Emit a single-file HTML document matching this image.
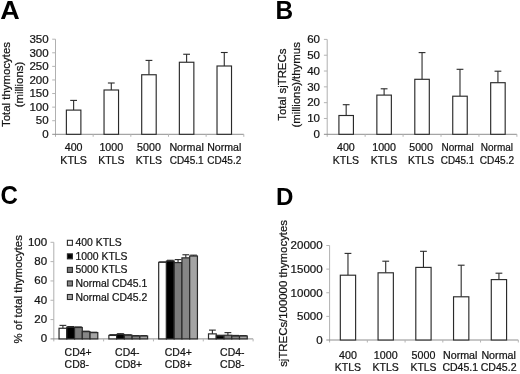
<!DOCTYPE html>
<html><head><meta charset="utf-8"><title>Figure</title>
<style>html,body{margin:0;padding:0;background:#fff;}svg{display:block;will-change:transform;font-family:"Liberation Sans",sans-serif;}</style>
</head><body>
<svg width="520" height="374" viewBox="0 0 520 374">
<rect x="0" y="0" width="520" height="374" fill="#fff"/>
<text transform="translate(0.15 19.3) scale(1.07 1)" font-size="25.2" text-anchor="start" font-weight="bold" fill="#000">A</text>
<text transform="translate(275.5 18.5) scale(0.97 1)" font-size="25.2" text-anchor="start" font-weight="bold" fill="#000">B</text>
<text transform="translate(0.6 204.2) scale(0.955 1)" font-size="25.2" text-anchor="start" font-weight="bold" fill="#000">C</text>
<text transform="translate(276.1 204.6) scale(0.972 1)" font-size="24.8" text-anchor="start" font-weight="bold" fill="#000">D</text>
<line x1="55.50" y1="39.20" x2="55.50" y2="136.80" stroke="#b0b0b0" stroke-width="1"/>
<line x1="52.20" y1="134.30" x2="243.80" y2="134.30" stroke="#8e8e8e" stroke-width="1"/>
<text transform="translate(48.7 138.05) scale(1.05 1)" font-size="11" text-anchor="end" font-weight="normal" fill="#141414" stroke="#141414" stroke-width="0.22">0</text>
<line x1="52.20" y1="120.71" x2="55.50" y2="120.71" stroke="#b4b4b4" stroke-width="1"/>
<text transform="translate(48.7 124.46428571428572) scale(1.05 1)" font-size="11" text-anchor="end" font-weight="normal" fill="#141414" stroke="#141414" stroke-width="0.22">50</text>
<line x1="52.20" y1="107.13" x2="55.50" y2="107.13" stroke="#b4b4b4" stroke-width="1"/>
<text transform="translate(48.7 110.87857142857143) scale(1.05 1)" font-size="11" text-anchor="end" font-weight="normal" fill="#141414" stroke="#141414" stroke-width="0.22">100</text>
<line x1="52.20" y1="93.54" x2="55.50" y2="93.54" stroke="#b4b4b4" stroke-width="1"/>
<text transform="translate(48.7 97.29285714285714) scale(1.05 1)" font-size="11" text-anchor="end" font-weight="normal" fill="#141414" stroke="#141414" stroke-width="0.22">150</text>
<line x1="52.20" y1="79.96" x2="55.50" y2="79.96" stroke="#b4b4b4" stroke-width="1"/>
<text transform="translate(48.7 83.70714285714286) scale(1.05 1)" font-size="11" text-anchor="end" font-weight="normal" fill="#141414" stroke="#141414" stroke-width="0.22">200</text>
<line x1="52.20" y1="66.37" x2="55.50" y2="66.37" stroke="#b4b4b4" stroke-width="1"/>
<text transform="translate(48.7 70.12142857142858) scale(1.05 1)" font-size="11" text-anchor="end" font-weight="normal" fill="#141414" stroke="#141414" stroke-width="0.22">250</text>
<line x1="52.20" y1="52.79" x2="55.50" y2="52.79" stroke="#b4b4b4" stroke-width="1"/>
<text transform="translate(48.7 56.53571428571429) scale(1.05 1)" font-size="11" text-anchor="end" font-weight="normal" fill="#141414" stroke="#141414" stroke-width="0.22">300</text>
<line x1="52.20" y1="39.20" x2="55.50" y2="39.20" stroke="#b4b4b4" stroke-width="1"/>
<text transform="translate(48.7 42.95) scale(1.05 1)" font-size="11" text-anchor="end" font-weight="normal" fill="#141414" stroke="#141414" stroke-width="0.22">350</text>
<line x1="93.16" y1="134.30" x2="93.16" y2="136.80" stroke="#b4b4b4" stroke-width="1"/>
<line x1="130.82" y1="134.30" x2="130.82" y2="136.80" stroke="#b4b4b4" stroke-width="1"/>
<line x1="168.48" y1="134.30" x2="168.48" y2="136.80" stroke="#b4b4b4" stroke-width="1"/>
<line x1="206.14" y1="134.30" x2="206.14" y2="136.80" stroke="#b4b4b4" stroke-width="1"/>
<line x1="243.80" y1="134.30" x2="243.80" y2="136.80" stroke="#b4b4b4" stroke-width="1"/>
<line x1="73.63" y1="100.40" x2="73.63" y2="110.10" stroke="#2a2a2a" stroke-width="1.1"/>
<line x1="70.23" y1="100.40" x2="77.03" y2="100.40" stroke="#2a2a2a" stroke-width="1.1"/>
<rect x="66.38" y="110.10" width="14.50" height="24.20" fill="#fff" stroke="#2a2a2a" stroke-width="1.15"/>
<text transform="translate(73.63 150.8) scale(1.07 1)" font-size="10" text-anchor="middle" font-weight="normal" fill="#141414" stroke="#141414" stroke-width="0.22">400</text>
<text transform="translate(73.63 163.9) scale(1.07 1)" font-size="10" text-anchor="middle" font-weight="normal" fill="#141414" stroke="#141414" stroke-width="0.22">KTLS</text>
<line x1="111.29" y1="83.00" x2="111.29" y2="90.00" stroke="#2a2a2a" stroke-width="1.1"/>
<line x1="107.89" y1="83.00" x2="114.69" y2="83.00" stroke="#2a2a2a" stroke-width="1.1"/>
<rect x="104.04" y="90.00" width="14.50" height="44.30" fill="#fff" stroke="#2a2a2a" stroke-width="1.15"/>
<text transform="translate(111.29 150.8) scale(1.07 1)" font-size="10" text-anchor="middle" font-weight="normal" fill="#141414" stroke="#141414" stroke-width="0.22">1000</text>
<text transform="translate(111.29 163.9) scale(1.05 1)" font-size="10" text-anchor="middle" font-weight="normal" fill="#141414" stroke="#141414" stroke-width="0.22">KTLS</text>
<line x1="148.95" y1="60.40" x2="148.95" y2="74.75" stroke="#2a2a2a" stroke-width="1.1"/>
<line x1="145.55" y1="60.40" x2="152.35" y2="60.40" stroke="#2a2a2a" stroke-width="1.1"/>
<rect x="141.70" y="74.75" width="14.50" height="59.55" fill="#fff" stroke="#2a2a2a" stroke-width="1.15"/>
<text transform="translate(148.95000000000002 150.8) scale(1.07 1)" font-size="10" text-anchor="middle" font-weight="normal" fill="#141414" stroke="#141414" stroke-width="0.22">5000</text>
<text transform="translate(148.95000000000002 163.9) scale(1.05 1)" font-size="10" text-anchor="middle" font-weight="normal" fill="#141414" stroke="#141414" stroke-width="0.22">KTLS</text>
<line x1="186.61" y1="54.25" x2="186.61" y2="62.25" stroke="#2a2a2a" stroke-width="1.1"/>
<line x1="183.21" y1="54.25" x2="190.01" y2="54.25" stroke="#2a2a2a" stroke-width="1.1"/>
<rect x="179.36" y="62.25" width="14.50" height="72.05" fill="#fff" stroke="#2a2a2a" stroke-width="1.15"/>
<text transform="translate(186.61 150.8) scale(1.07 1)" font-size="10" text-anchor="middle" font-weight="normal" fill="#141414" stroke="#141414" stroke-width="0.22">Normal</text>
<text transform="translate(186.61 163.9)" font-size="10" text-anchor="middle" font-weight="normal" fill="#141414" stroke="#141414" stroke-width="0.22">CD45.1</text>
<line x1="224.27" y1="52.50" x2="224.27" y2="66.00" stroke="#2a2a2a" stroke-width="1.1"/>
<line x1="220.87" y1="52.50" x2="227.67" y2="52.50" stroke="#2a2a2a" stroke-width="1.1"/>
<rect x="217.02" y="66.00" width="14.50" height="68.30" fill="#fff" stroke="#2a2a2a" stroke-width="1.15"/>
<text transform="translate(224.27000000000004 150.8) scale(1.06 1)" font-size="10" text-anchor="middle" font-weight="normal" fill="#141414" stroke="#141414" stroke-width="0.22">Normal</text>
<text transform="translate(224.27000000000004 163.9)" font-size="10" text-anchor="middle" font-weight="normal" fill="#141414" stroke="#141414" stroke-width="0.22">CD45.2</text>
<text transform="translate(10.2 84.5) rotate(-90) scale(1 1.03)" font-size="11.4" text-anchor="middle" font-weight="normal" fill="#141414" stroke="#141414" stroke-width="0.22">Total thymocytes</text>
<text transform="translate(22.7 84.5) rotate(-90) scale(1 1.03)" font-size="11.4" text-anchor="middle" font-weight="normal" fill="#141414" stroke="#141414" stroke-width="0.22">(millions)</text>
<line x1="327.20" y1="39.40" x2="327.20" y2="136.80" stroke="#b0b0b0" stroke-width="1"/>
<line x1="323.90" y1="134.30" x2="516.90" y2="134.30" stroke="#8e8e8e" stroke-width="1"/>
<text transform="translate(320.0 138.05) scale(1.05 1)" font-size="11" text-anchor="end" font-weight="normal" fill="#141414" stroke="#141414" stroke-width="0.22">0</text>
<line x1="323.90" y1="118.48" x2="327.20" y2="118.48" stroke="#b4b4b4" stroke-width="1"/>
<text transform="translate(320.0 122.23333333333335) scale(1.05 1)" font-size="11" text-anchor="end" font-weight="normal" fill="#141414" stroke="#141414" stroke-width="0.22">10</text>
<line x1="323.90" y1="102.67" x2="327.20" y2="102.67" stroke="#b4b4b4" stroke-width="1"/>
<text transform="translate(320.0 106.41666666666667) scale(1.05 1)" font-size="11" text-anchor="end" font-weight="normal" fill="#141414" stroke="#141414" stroke-width="0.22">20</text>
<line x1="323.90" y1="86.85" x2="327.20" y2="86.85" stroke="#b4b4b4" stroke-width="1"/>
<text transform="translate(320.0 90.6) scale(1.05 1)" font-size="11" text-anchor="end" font-weight="normal" fill="#141414" stroke="#141414" stroke-width="0.22">30</text>
<line x1="323.90" y1="71.03" x2="327.20" y2="71.03" stroke="#b4b4b4" stroke-width="1"/>
<text transform="translate(320.0 74.78333333333333) scale(1.05 1)" font-size="11" text-anchor="end" font-weight="normal" fill="#141414" stroke="#141414" stroke-width="0.22">40</text>
<line x1="323.90" y1="55.22" x2="327.20" y2="55.22" stroke="#b4b4b4" stroke-width="1"/>
<text transform="translate(320.0 58.96666666666668) scale(1.05 1)" font-size="11" text-anchor="end" font-weight="normal" fill="#141414" stroke="#141414" stroke-width="0.22">50</text>
<line x1="323.90" y1="39.40" x2="327.20" y2="39.40" stroke="#b4b4b4" stroke-width="1"/>
<text transform="translate(320.0 43.14999999999999) scale(1.05 1)" font-size="11" text-anchor="end" font-weight="normal" fill="#141414" stroke="#141414" stroke-width="0.22">60</text>
<line x1="365.14" y1="134.30" x2="365.14" y2="136.80" stroke="#b4b4b4" stroke-width="1"/>
<line x1="403.08" y1="134.30" x2="403.08" y2="136.80" stroke="#b4b4b4" stroke-width="1"/>
<line x1="441.02" y1="134.30" x2="441.02" y2="136.80" stroke="#b4b4b4" stroke-width="1"/>
<line x1="478.96" y1="134.30" x2="478.96" y2="136.80" stroke="#b4b4b4" stroke-width="1"/>
<line x1="516.90" y1="134.30" x2="516.90" y2="136.80" stroke="#b4b4b4" stroke-width="1"/>
<line x1="346.17" y1="104.70" x2="346.17" y2="115.50" stroke="#2a2a2a" stroke-width="1.1"/>
<line x1="342.77" y1="104.70" x2="349.57" y2="104.70" stroke="#2a2a2a" stroke-width="1.1"/>
<rect x="338.92" y="115.50" width="14.50" height="18.80" fill="#fff" stroke="#2a2a2a" stroke-width="1.15"/>
<text transform="translate(345.86999999999995 150.8) scale(1.07 1)" font-size="10" text-anchor="middle" font-weight="normal" fill="#141414" stroke="#141414" stroke-width="0.22">400</text>
<text transform="translate(345.86999999999995 163.9) scale(1.05 1)" font-size="10" text-anchor="middle" font-weight="normal" fill="#141414" stroke="#141414" stroke-width="0.22">KTLS</text>
<line x1="384.11" y1="88.80" x2="384.11" y2="95.10" stroke="#2a2a2a" stroke-width="1.1"/>
<line x1="380.71" y1="88.80" x2="387.51" y2="88.80" stroke="#2a2a2a" stroke-width="1.1"/>
<rect x="376.86" y="95.10" width="14.50" height="39.20" fill="#fff" stroke="#2a2a2a" stroke-width="1.15"/>
<text transform="translate(384.11 150.8) scale(1.07 1)" font-size="10" text-anchor="middle" font-weight="normal" fill="#141414" stroke="#141414" stroke-width="0.22">1000</text>
<text transform="translate(384.11 163.9) scale(1.07 1)" font-size="10" text-anchor="middle" font-weight="normal" fill="#141414" stroke="#141414" stroke-width="0.22">KTLS</text>
<line x1="422.05" y1="52.60" x2="422.05" y2="79.30" stroke="#2a2a2a" stroke-width="1.1"/>
<line x1="418.65" y1="52.60" x2="425.45" y2="52.60" stroke="#2a2a2a" stroke-width="1.1"/>
<rect x="414.80" y="79.30" width="14.50" height="55.00" fill="#fff" stroke="#2a2a2a" stroke-width="1.15"/>
<text transform="translate(421.04999999999995 150.8) scale(1.05 1)" font-size="10" text-anchor="middle" font-weight="normal" fill="#141414" stroke="#141414" stroke-width="0.22">5000</text>
<text transform="translate(421.04999999999995 163.9) scale(1.05 1)" font-size="10" text-anchor="middle" font-weight="normal" fill="#141414" stroke="#141414" stroke-width="0.22">KTLS</text>
<line x1="459.99" y1="69.30" x2="459.99" y2="96.20" stroke="#2a2a2a" stroke-width="1.1"/>
<line x1="456.59" y1="69.30" x2="463.39" y2="69.30" stroke="#2a2a2a" stroke-width="1.1"/>
<rect x="452.74" y="96.20" width="14.50" height="38.10" fill="#fff" stroke="#2a2a2a" stroke-width="1.15"/>
<text transform="translate(457.59000000000003 150.8)" font-size="10" text-anchor="middle" font-weight="normal" fill="#141414" stroke="#141414" stroke-width="0.22">Normal</text>
<text transform="translate(457.59000000000003 163.9) scale(0.99 1)" font-size="10" text-anchor="middle" font-weight="normal" fill="#141414" stroke="#141414" stroke-width="0.22">CD45.1</text>
<line x1="497.93" y1="71.20" x2="497.93" y2="82.70" stroke="#2a2a2a" stroke-width="1.1"/>
<line x1="494.53" y1="71.20" x2="501.33" y2="71.20" stroke="#2a2a2a" stroke-width="1.1"/>
<rect x="490.68" y="82.70" width="14.50" height="51.60" fill="#fff" stroke="#2a2a2a" stroke-width="1.15"/>
<text transform="translate(496.92999999999995 150.8)" font-size="10" text-anchor="middle" font-weight="normal" fill="#141414" stroke="#141414" stroke-width="0.22">Normal</text>
<text transform="translate(496.92999999999995 163.9) scale(1.01 1)" font-size="10" text-anchor="middle" font-weight="normal" fill="#141414" stroke="#141414" stroke-width="0.22">CD45.2</text>
<text transform="translate(286.4 84.7) rotate(-90) scale(1 1.03)" font-size="11.4" text-anchor="middle" font-weight="normal" fill="#141414" stroke="#141414" stroke-width="0.22">Total sjTRECs</text>
<text transform="translate(300.3 84.9) rotate(-90) scale(1 1.03)" font-size="11.4" text-anchor="middle" font-weight="normal" fill="#141414" stroke="#141414" stroke-width="0.22">(millions)/thymus</text>
<line x1="329.60" y1="245.50" x2="329.60" y2="342.50" stroke="#b0b0b0" stroke-width="1"/>
<line x1="326.30" y1="340.00" x2="518.30" y2="340.00" stroke="#8e8e8e" stroke-width="1"/>
<text transform="translate(322.70000000000005 343.75) scale(1.05 1)" font-size="11" text-anchor="end" font-weight="normal" fill="#141414" stroke="#141414" stroke-width="0.22">0</text>
<line x1="326.30" y1="316.38" x2="329.60" y2="316.38" stroke="#b4b4b4" stroke-width="1"/>
<text transform="translate(322.70000000000005 320.125) scale(1.05 1)" font-size="11" text-anchor="end" font-weight="normal" fill="#141414" stroke="#141414" stroke-width="0.22">5000</text>
<line x1="326.30" y1="292.75" x2="329.60" y2="292.75" stroke="#b4b4b4" stroke-width="1"/>
<text transform="translate(322.70000000000005 296.5) scale(1.05 1)" font-size="11" text-anchor="end" font-weight="normal" fill="#141414" stroke="#141414" stroke-width="0.22">10000</text>
<line x1="326.30" y1="269.12" x2="329.60" y2="269.12" stroke="#b4b4b4" stroke-width="1"/>
<text transform="translate(322.70000000000005 272.875) scale(1.05 1)" font-size="11" text-anchor="end" font-weight="normal" fill="#141414" stroke="#141414" stroke-width="0.22">15000</text>
<line x1="326.30" y1="245.50" x2="329.60" y2="245.50" stroke="#b4b4b4" stroke-width="1"/>
<text transform="translate(322.70000000000005 249.25) scale(1.05 1)" font-size="11" text-anchor="end" font-weight="normal" fill="#141414" stroke="#141414" stroke-width="0.22">20000</text>
<line x1="367.34" y1="340.00" x2="367.34" y2="342.50" stroke="#b4b4b4" stroke-width="1"/>
<line x1="405.08" y1="340.00" x2="405.08" y2="342.50" stroke="#b4b4b4" stroke-width="1"/>
<line x1="442.82" y1="340.00" x2="442.82" y2="342.50" stroke="#b4b4b4" stroke-width="1"/>
<line x1="480.56" y1="340.00" x2="480.56" y2="342.50" stroke="#b4b4b4" stroke-width="1"/>
<line x1="518.30" y1="340.00" x2="518.30" y2="342.50" stroke="#b4b4b4" stroke-width="1"/>
<line x1="347.97" y1="253.40" x2="347.97" y2="275.20" stroke="#2a2a2a" stroke-width="1.1"/>
<line x1="344.57" y1="253.40" x2="351.37" y2="253.40" stroke="#2a2a2a" stroke-width="1.1"/>
<rect x="340.32" y="275.20" width="15.30" height="64.80" fill="#fff" stroke="#2a2a2a" stroke-width="1.15"/>
<text transform="translate(347.97 358.6) scale(1.07 1)" font-size="10" text-anchor="middle" font-weight="normal" fill="#141414" stroke="#141414" stroke-width="0.22">400</text>
<text transform="translate(347.97 371.2) scale(1.05 1)" font-size="10" text-anchor="middle" font-weight="normal" fill="#141414" stroke="#141414" stroke-width="0.22">KTLS</text>
<line x1="385.71" y1="261.20" x2="385.71" y2="272.80" stroke="#2a2a2a" stroke-width="1.1"/>
<line x1="382.31" y1="261.20" x2="389.11" y2="261.20" stroke="#2a2a2a" stroke-width="1.1"/>
<rect x="378.06" y="272.80" width="15.30" height="67.20" fill="#fff" stroke="#2a2a2a" stroke-width="1.15"/>
<text transform="translate(385.71000000000004 358.6) scale(1.07 1)" font-size="10" text-anchor="middle" font-weight="normal" fill="#141414" stroke="#141414" stroke-width="0.22">1000</text>
<text transform="translate(385.71000000000004 371.2) scale(1.05 1)" font-size="10" text-anchor="middle" font-weight="normal" fill="#141414" stroke="#141414" stroke-width="0.22">KTLS</text>
<line x1="423.45" y1="251.30" x2="423.45" y2="267.40" stroke="#2a2a2a" stroke-width="1.1"/>
<line x1="420.05" y1="251.30" x2="426.85" y2="251.30" stroke="#2a2a2a" stroke-width="1.1"/>
<rect x="415.80" y="267.40" width="15.30" height="72.60" fill="#fff" stroke="#2a2a2a" stroke-width="1.15"/>
<text transform="translate(423.45 358.6) scale(1.07 1)" font-size="10" text-anchor="middle" font-weight="normal" fill="#141414" stroke="#141414" stroke-width="0.22">5000</text>
<text transform="translate(423.45 371.2) scale(1.04 1)" font-size="10" text-anchor="middle" font-weight="normal" fill="#141414" stroke="#141414" stroke-width="0.22">KTLS</text>
<line x1="461.19" y1="265.20" x2="461.19" y2="296.80" stroke="#2a2a2a" stroke-width="1.1"/>
<line x1="457.79" y1="265.20" x2="464.59" y2="265.20" stroke="#2a2a2a" stroke-width="1.1"/>
<rect x="453.54" y="296.80" width="15.30" height="43.20" fill="#fff" stroke="#2a2a2a" stroke-width="1.15"/>
<text transform="translate(460.18999999999994 358.6) scale(1.07 1)" font-size="10" text-anchor="middle" font-weight="normal" fill="#141414" stroke="#141414" stroke-width="0.22">Normal</text>
<text transform="translate(460.18999999999994 371.2) scale(1.05 1)" font-size="10" text-anchor="middle" font-weight="normal" fill="#141414" stroke="#141414" stroke-width="0.22">CD45.1</text>
<line x1="498.93" y1="273.20" x2="498.93" y2="279.60" stroke="#2a2a2a" stroke-width="1.1"/>
<line x1="495.53" y1="273.20" x2="502.33" y2="273.20" stroke="#2a2a2a" stroke-width="1.1"/>
<rect x="491.28" y="279.60" width="15.30" height="60.40" fill="#fff" stroke="#2a2a2a" stroke-width="1.15"/>
<text transform="translate(498.62999999999994 358.6) scale(1.07 1)" font-size="10" text-anchor="middle" font-weight="normal" fill="#141414" stroke="#141414" stroke-width="0.22">Normal</text>
<text transform="translate(498.62999999999994 371.2) scale(1.06 1)" font-size="10" text-anchor="middle" font-weight="normal" fill="#141414" stroke="#141414" stroke-width="0.22">CD45.2</text>
<text transform="translate(286.9 293.4) rotate(-90) scale(1 1.03)" font-size="11.4" text-anchor="middle" font-weight="normal" fill="#141414" stroke="#141414" stroke-width="0.22">sjTRECs/100000 thymocytes</text>
<line x1="53.80" y1="242.30" x2="53.80" y2="341.40" stroke="#b0b0b0" stroke-width="1"/>
<line x1="50.50" y1="338.90" x2="253.10" y2="338.90" stroke="#8e8e8e" stroke-width="1"/>
<text transform="translate(47.199999999999996 342.25) scale(1.05 1)" font-size="11" text-anchor="end" font-weight="normal" fill="#141414" stroke="#141414" stroke-width="0.22">0</text>
<line x1="50.50" y1="319.58" x2="53.80" y2="319.58" stroke="#b4b4b4" stroke-width="1"/>
<text transform="translate(47.199999999999996 322.93) scale(1.05 1)" font-size="11" text-anchor="end" font-weight="normal" fill="#141414" stroke="#141414" stroke-width="0.22">20</text>
<line x1="50.50" y1="300.26" x2="53.80" y2="300.26" stroke="#b4b4b4" stroke-width="1"/>
<text transform="translate(47.199999999999996 303.61) scale(1.05 1)" font-size="11" text-anchor="end" font-weight="normal" fill="#141414" stroke="#141414" stroke-width="0.22">40</text>
<line x1="50.50" y1="280.94" x2="53.80" y2="280.94" stroke="#b4b4b4" stroke-width="1"/>
<text transform="translate(47.199999999999996 284.29) scale(1.05 1)" font-size="11" text-anchor="end" font-weight="normal" fill="#141414" stroke="#141414" stroke-width="0.22">60</text>
<line x1="50.50" y1="261.62" x2="53.80" y2="261.62" stroke="#b4b4b4" stroke-width="1"/>
<text transform="translate(47.199999999999996 264.97) scale(1.05 1)" font-size="11" text-anchor="end" font-weight="normal" fill="#141414" stroke="#141414" stroke-width="0.22">80</text>
<line x1="50.50" y1="242.30" x2="53.80" y2="242.30" stroke="#b4b4b4" stroke-width="1"/>
<text transform="translate(47.199999999999996 245.65) scale(1.05 1)" font-size="11" text-anchor="end" font-weight="normal" fill="#141414" stroke="#141414" stroke-width="0.22">100</text>
<line x1="103.62" y1="338.90" x2="103.62" y2="341.40" stroke="#b4b4b4" stroke-width="1"/>
<line x1="153.45" y1="338.90" x2="153.45" y2="341.40" stroke="#b4b4b4" stroke-width="1"/>
<line x1="203.28" y1="338.90" x2="203.28" y2="341.40" stroke="#b4b4b4" stroke-width="1"/>
<line x1="253.10" y1="338.90" x2="253.10" y2="341.40" stroke="#b4b4b4" stroke-width="1"/>
<line x1="62.91" y1="325.38" x2="62.91" y2="328.27" stroke="#2a2a2a" stroke-width="1.1"/>
<line x1="59.51" y1="325.38" x2="66.31" y2="325.38" stroke="#2a2a2a" stroke-width="1.1"/>
<line x1="70.66" y1="326.54" x2="70.66" y2="327.11" stroke="#2a2a2a" stroke-width="1.1"/>
<line x1="67.26" y1="326.54" x2="74.06" y2="326.54" stroke="#2a2a2a" stroke-width="1.1"/>
<line x1="78.41" y1="326.92" x2="78.41" y2="327.50" stroke="#2a2a2a" stroke-width="1.1"/>
<line x1="75.01" y1="326.92" x2="81.81" y2="326.92" stroke="#2a2a2a" stroke-width="1.1"/>
<line x1="86.16" y1="331.17" x2="86.16" y2="331.65" stroke="#2a2a2a" stroke-width="1.1"/>
<line x1="82.76" y1="331.17" x2="89.56" y2="331.17" stroke="#2a2a2a" stroke-width="1.1"/>
<line x1="93.91" y1="332.23" x2="93.91" y2="332.62" stroke="#2a2a2a" stroke-width="1.1"/>
<line x1="90.51" y1="332.23" x2="97.31" y2="332.23" stroke="#2a2a2a" stroke-width="1.1"/>
<rect x="59.04" y="328.27" width="7.75" height="10.63" fill="#ffffff" stroke="#2a2a2a" stroke-width="1.2"/>
<rect x="66.79" y="327.11" width="7.75" height="11.79" fill="#000000" stroke="#2a2a2a" stroke-width="1.2"/>
<rect x="74.54" y="327.50" width="7.75" height="11.40" fill="#7c7c7c" stroke="#2a2a2a" stroke-width="1.2"/>
<rect x="82.29" y="331.65" width="7.75" height="7.25" fill="#868686" stroke="#2a2a2a" stroke-width="1.2"/>
<rect x="90.04" y="332.62" width="7.75" height="6.28" fill="#a4a4a4" stroke="#2a2a2a" stroke-width="1.2"/>
<line x1="112.74" y1="334.65" x2="112.74" y2="335.42" stroke="#2a2a2a" stroke-width="1.1"/>
<line x1="109.34" y1="334.65" x2="116.14" y2="334.65" stroke="#2a2a2a" stroke-width="1.1"/>
<line x1="120.49" y1="333.68" x2="120.49" y2="334.46" stroke="#2a2a2a" stroke-width="1.1"/>
<line x1="117.09" y1="333.68" x2="123.89" y2="333.68" stroke="#2a2a2a" stroke-width="1.1"/>
<line x1="128.24" y1="334.75" x2="128.24" y2="335.23" stroke="#2a2a2a" stroke-width="1.1"/>
<line x1="124.84" y1="334.75" x2="131.64" y2="334.75" stroke="#2a2a2a" stroke-width="1.1"/>
<line x1="135.99" y1="335.62" x2="135.99" y2="336.00" stroke="#2a2a2a" stroke-width="1.1"/>
<line x1="132.59" y1="335.62" x2="139.39" y2="335.62" stroke="#2a2a2a" stroke-width="1.1"/>
<line x1="143.74" y1="335.62" x2="143.74" y2="336.00" stroke="#2a2a2a" stroke-width="1.1"/>
<line x1="140.34" y1="335.62" x2="147.14" y2="335.62" stroke="#2a2a2a" stroke-width="1.1"/>
<rect x="108.86" y="335.42" width="7.75" height="3.48" fill="#ffffff" stroke="#2a2a2a" stroke-width="1.2"/>
<rect x="116.61" y="334.46" width="7.75" height="4.44" fill="#000000" stroke="#2a2a2a" stroke-width="1.2"/>
<rect x="124.36" y="335.23" width="7.75" height="3.67" fill="#7c7c7c" stroke="#2a2a2a" stroke-width="1.2"/>
<rect x="132.11" y="336.00" width="7.75" height="2.90" fill="#868686" stroke="#2a2a2a" stroke-width="1.2"/>
<rect x="139.86" y="336.00" width="7.75" height="2.90" fill="#a4a4a4" stroke="#2a2a2a" stroke-width="1.2"/>
<line x1="162.56" y1="261.91" x2="162.56" y2="262.30" stroke="#2a2a2a" stroke-width="1.1"/>
<line x1="159.16" y1="261.91" x2="165.96" y2="261.91" stroke="#2a2a2a" stroke-width="1.1"/>
<line x1="170.31" y1="260.27" x2="170.31" y2="261.04" stroke="#2a2a2a" stroke-width="1.1"/>
<line x1="166.91" y1="260.27" x2="173.71" y2="260.27" stroke="#2a2a2a" stroke-width="1.1"/>
<line x1="178.06" y1="259.59" x2="178.06" y2="262.59" stroke="#2a2a2a" stroke-width="1.1"/>
<line x1="174.66" y1="259.59" x2="181.46" y2="259.59" stroke="#2a2a2a" stroke-width="1.1"/>
<line x1="185.81" y1="254.76" x2="185.81" y2="257.85" stroke="#2a2a2a" stroke-width="1.1"/>
<line x1="182.41" y1="254.76" x2="189.21" y2="254.76" stroke="#2a2a2a" stroke-width="1.1"/>
<line x1="193.56" y1="255.15" x2="193.56" y2="256.02" stroke="#2a2a2a" stroke-width="1.1"/>
<line x1="190.16" y1="255.15" x2="196.96" y2="255.15" stroke="#2a2a2a" stroke-width="1.1"/>
<rect x="158.69" y="262.30" width="7.75" height="76.60" fill="#ffffff" stroke="#2a2a2a" stroke-width="1.2"/>
<rect x="166.44" y="261.04" width="7.75" height="77.86" fill="#000000" stroke="#2a2a2a" stroke-width="1.2"/>
<rect x="174.19" y="262.59" width="7.75" height="76.31" fill="#7c7c7c" stroke="#2a2a2a" stroke-width="1.2"/>
<rect x="181.94" y="257.85" width="7.75" height="81.05" fill="#868686" stroke="#2a2a2a" stroke-width="1.2"/>
<rect x="189.69" y="256.02" width="7.75" height="82.88" fill="#a4a4a4" stroke="#2a2a2a" stroke-width="1.2"/>
<line x1="212.39" y1="330.11" x2="212.39" y2="333.88" stroke="#2a2a2a" stroke-width="1.1"/>
<line x1="208.99" y1="330.11" x2="215.79" y2="330.11" stroke="#2a2a2a" stroke-width="1.1"/>
<line x1="220.14" y1="335.23" x2="220.14" y2="335.81" stroke="#2a2a2a" stroke-width="1.1"/>
<line x1="216.74" y1="335.23" x2="223.54" y2="335.23" stroke="#2a2a2a" stroke-width="1.1"/>
<line x1="227.89" y1="332.62" x2="227.89" y2="335.23" stroke="#2a2a2a" stroke-width="1.1"/>
<line x1="224.49" y1="332.62" x2="231.29" y2="332.62" stroke="#2a2a2a" stroke-width="1.1"/>
<line x1="235.64" y1="335.42" x2="235.64" y2="336.00" stroke="#2a2a2a" stroke-width="1.1"/>
<line x1="232.24" y1="335.42" x2="239.04" y2="335.42" stroke="#2a2a2a" stroke-width="1.1"/>
<line x1="243.39" y1="335.62" x2="243.39" y2="336.00" stroke="#2a2a2a" stroke-width="1.1"/>
<line x1="239.99" y1="335.62" x2="246.79" y2="335.62" stroke="#2a2a2a" stroke-width="1.1"/>
<rect x="208.51" y="333.88" width="7.75" height="5.02" fill="#ffffff" stroke="#2a2a2a" stroke-width="1.2"/>
<rect x="216.26" y="335.81" width="7.75" height="3.09" fill="#000000" stroke="#2a2a2a" stroke-width="1.2"/>
<rect x="224.01" y="335.23" width="7.75" height="3.67" fill="#7c7c7c" stroke="#2a2a2a" stroke-width="1.2"/>
<rect x="231.76" y="336.00" width="7.75" height="2.90" fill="#868686" stroke="#2a2a2a" stroke-width="1.2"/>
<rect x="239.51" y="336.00" width="7.75" height="2.90" fill="#a4a4a4" stroke="#2a2a2a" stroke-width="1.2"/>
<text transform="translate(64.6 356.2) scale(1.045 1)" font-size="10" text-anchor="start" font-weight="normal" fill="#141414" stroke="#141414" stroke-width="0.22">CD4+</text>
<text transform="translate(64.6 368.3) scale(1.045 1)" font-size="10" text-anchor="start" font-weight="normal" fill="#141414" stroke="#141414" stroke-width="0.22">CD8-</text>
<text transform="translate(115.1 356.2) scale(1.045 1)" font-size="10" text-anchor="start" font-weight="normal" fill="#141414" stroke="#141414" stroke-width="0.22">CD4-</text>
<text transform="translate(115.1 368.3) scale(1.045 1)" font-size="10" text-anchor="start" font-weight="normal" fill="#141414" stroke="#141414" stroke-width="0.22">CD8+</text>
<text transform="translate(164.8 356.2) scale(1.045 1)" font-size="10" text-anchor="start" font-weight="normal" fill="#141414" stroke="#141414" stroke-width="0.22">CD4+</text>
<text transform="translate(164.8 368.3) scale(1.045 1)" font-size="10" text-anchor="start" font-weight="normal" fill="#141414" stroke="#141414" stroke-width="0.22">CD8+</text>
<text transform="translate(220.1 356.2) scale(1.045 1)" font-size="10" text-anchor="start" font-weight="normal" fill="#141414" stroke="#141414" stroke-width="0.22">CD4-</text>
<text transform="translate(220.1 368.3) scale(1.045 1)" font-size="10" text-anchor="start" font-weight="normal" fill="#141414" stroke="#141414" stroke-width="0.22">CD8-</text>
<rect x="67.40" y="240.30" width="5.00" height="5.00" fill="#ffffff" stroke="#2a2a2a" stroke-width="1.1"/>
<text transform="translate(75.5 246.35000000000002) scale(1.03 1)" font-size="10.1" text-anchor="start" font-weight="normal" fill="#141414" stroke="#141414" stroke-width="0.22">400 KTLS</text>
<rect x="67.40" y="253.85" width="5.00" height="5.00" fill="#000000" stroke="#2a2a2a" stroke-width="1.1"/>
<text transform="translate(75.5 259.90000000000003) scale(1.03 1)" font-size="10.1" text-anchor="start" font-weight="normal" fill="#141414" stroke="#141414" stroke-width="0.22">1000 KTLS</text>
<rect x="67.40" y="267.40" width="5.00" height="5.00" fill="#7c7c7c" stroke="#2a2a2a" stroke-width="1.1"/>
<text transform="translate(75.5 273.45000000000005) scale(1.03 1)" font-size="10.1" text-anchor="start" font-weight="normal" fill="#141414" stroke="#141414" stroke-width="0.22">5000 KTLS</text>
<rect x="67.40" y="280.95" width="5.00" height="5.00" fill="#868686" stroke="#2a2a2a" stroke-width="1.1"/>
<text transform="translate(75.5 287.00000000000006) scale(1.03 1)" font-size="10.1" text-anchor="start" font-weight="normal" fill="#141414" stroke="#141414" stroke-width="0.22">Normal CD45.1</text>
<rect x="67.40" y="294.50" width="5.00" height="5.00" fill="#a4a4a4" stroke="#2a2a2a" stroke-width="1.1"/>
<text transform="translate(75.5 300.55) scale(1.03 1)" font-size="10.1" text-anchor="start" font-weight="normal" fill="#141414" stroke="#141414" stroke-width="0.22">Normal CD45.2</text>
<text transform="translate(22 289.3) rotate(-90) scale(1 1.03)" font-size="11.4" text-anchor="middle" font-weight="normal" fill="#141414" stroke="#141414" stroke-width="0.22">% of total thymocytes</text>
</svg>
</body></html>
